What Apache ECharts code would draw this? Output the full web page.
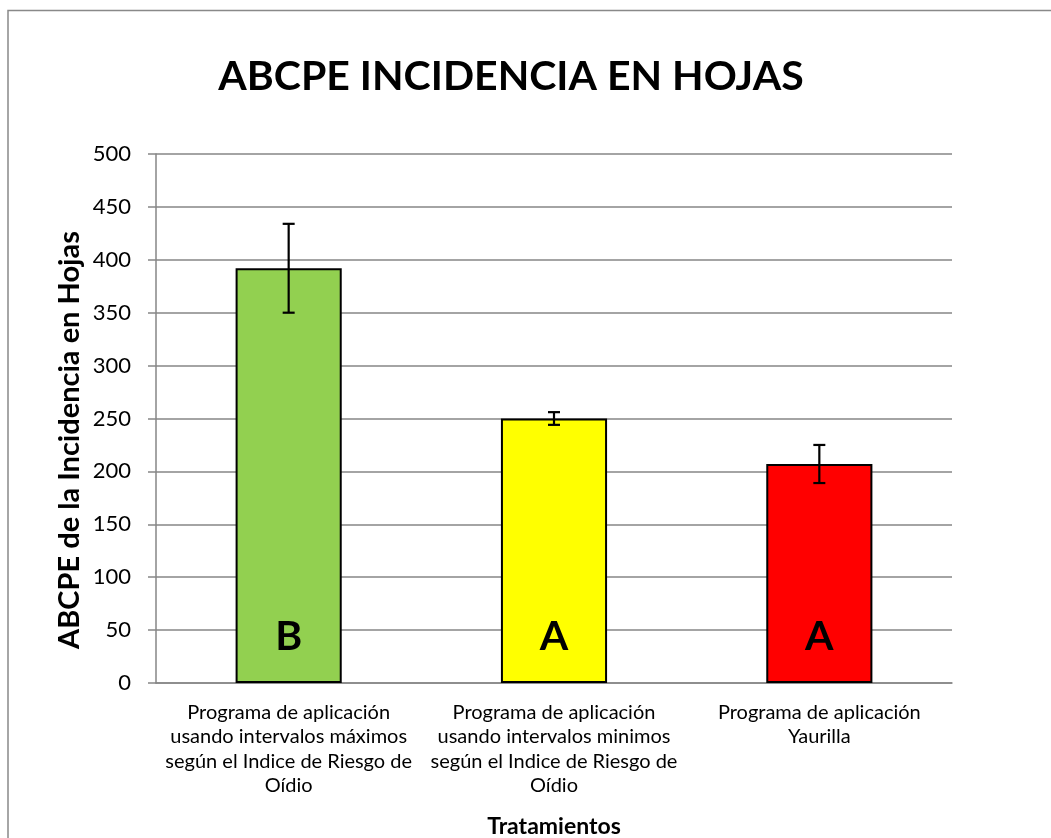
<!DOCTYPE html>
<html>
<head>
<meta charset="utf-8">
<script src="https://cdn.jsdelivr.net/npm/echarts@6/dist/echarts.min.js"></script>
<style>html,body{margin:0;padding:0;background:#fff;}#c{width:1051px;height:838px;}</style>
</head>
<body>
<div id="c"></div>
<script>
var categories = [
  'Programa de aplicación\nusando intervalos máximos\nsegún el Indice de Riesgo de\nOídio',
  'Programa de aplicación\nusando intervalos minimos\nsegún el Indice de Riesgo de\nOídio',
  'Programa de aplicación\nYaurilla'
];
var values = [392, 250, 207];
var errors = [42, 6, 18];
var letters = ['B', 'A', 'A'];
var colors = ['#92D050', '#FFFF00', '#FF0000'];
var yTicks = [0, 50, 100, 150, 200, 250, 300, 350, 400, 450, 500];

var FONT = 'Lato';
var chart = echarts.init(document.getElementById('c'), null, {renderer: 'canvas'});
var errData = values.map(function (v, i) { return [i, v - errors[i], v + errors[i]]; });

chart.setOption({
  backgroundColor: '#fff',
  animation: false,
  title: {
    text: 'ABCPE INCIDENCIA EN HOJAS',
    left: 506, top: 51, textAlign: 'center',
    textStyle: {fontFamily: FONT, fontWeight: 'bold', fontSize: 41, color: '#000'}
  },
  graphic: [
    {type: 'rect', shape: {x: 8, y: 10.5, width: 1100, height: 900}, style: {fill: 'none', stroke: '#898989', lineWidth: 1.5}, silent: true, z: -10},
    {type: 'text', x: 70, y: 440, rotation: Math.PI / 2,
     style: {text: 'ABCPE de la Incidencia en Hojas', fontFamily: FONT, fontWeight: 'bold', fontSize: 29, fill: '#000', textAlign: 'center', textVerticalAlign: 'middle'}}
  ],
  grid: {left: 156, right: 99, top: 154, bottom: 155, containLabel: false, outerBoundsMode: 'none'},
  xAxis: {
    type: 'category', data: categories,
    name: 'Tratamientos', nameLocation: 'middle', nameGap: 132,
    nameTextStyle: {fontFamily: FONT, fontWeight: 'bold', fontSize: 23, color: '#000'},
    axisLine: {lineStyle: {color: '#868686', width: 1.5}},
    axisTick: {show: false},
    axisLabel: {interval: 0, margin: 17, fontFamily: FONT, fontSize: 20, lineHeight: 24.5, color: '#000', align: 'center'}
  },
  yAxis: {
    type: 'value', min: yTicks[0], max: yTicks[yTicks.length - 1], interval: 50,
    axisLine: {show: true, lineStyle: {color: '#868686', width: 1.5}},
    axisTick: {show: true, length: 8, lineStyle: {color: '#868686', width: 1.5}},
    splitLine: {lineStyle: {color: '#868686', width: 1.5}},
    axisLabel: {margin: 25, fontFamily: FONT, fontSize: 22, color: '#000'}
  },
  series: [
    {
      type: 'bar', barWidth: '40%',
      data: values.map(function (v, i) {
        return {value: v, itemStyle: {color: colors[i]}, label: {formatter: letters[i]}};
      }),
      itemStyle: {borderColor: '#000', borderWidth: 2},
      label: {show: true, position: 'insideBottom', distance: 26, fontFamily: FONT, fontWeight: 'bold', fontSize: 41, color: '#000'},
      z: 2
    },
    {
      type: 'custom', data: errData, z: 5,
      renderItem: function (params, api) {
        var x = api.value(0);
        var lo = api.coord([x, api.value(1)]);
        var hi = api.coord([x, api.value(2)]);
        var w = 6;
        var st = {stroke: '#000', lineWidth: 2.2};
        return {type: 'group', children: [
          {type: 'line', shape: {x1: lo[0], y1: lo[1], x2: hi[0], y2: hi[1]}, style: st},
          {type: 'line', shape: {x1: hi[0] - w, y1: hi[1], x2: hi[0] + w, y2: hi[1]}, style: st},
          {type: 'line', shape: {x1: lo[0] - w, y1: lo[1], x2: lo[0] + w, y2: lo[1]}, style: st}
        ]};
      }
    }
  ]
});
</script>
</body>
</html>
